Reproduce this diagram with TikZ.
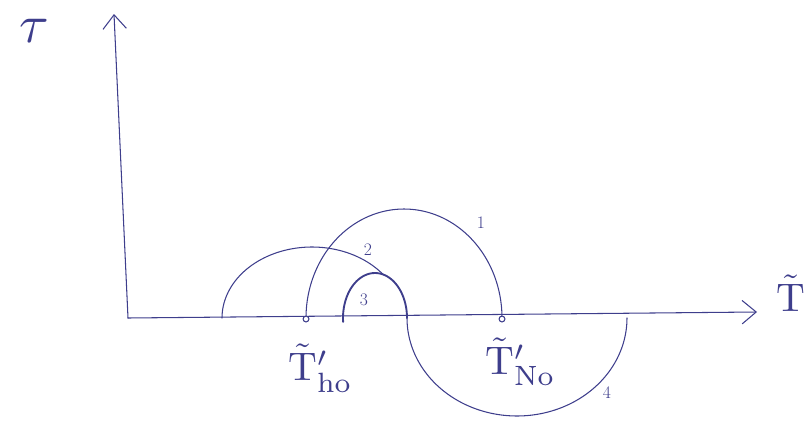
\documentclass[tikz,border=0pt]{standalone}
\usepackage{graphicx}
\usetikzlibrary{arrows.meta}
\definecolor{ink}{RGB}{62,62,140}
\newcommand{\biglabtext}[1]{\scalebox{3.4}{#1}}
\begin{document}
\begin{tikzpicture}[x=0.03cm,y=-0.03cm,
  ink line/.style={draw=ink,line width=0.9pt,line cap=round},
  bold line/.style={draw=ink,line width=1.6pt,line cap=round},
  axis/.style={ink line,-{Straight Barb[length=12pt,width=20pt,line width=0.9pt]}},
  pt/.style={circle,draw=ink,line width=0.9pt,fill=white,inner sep=0pt,minimum size=5pt},
  num/.style={text=ink,font=\fontsize{15}{15}\selectfont,inner sep=0pt},
  biglab/.style={text=ink,inner sep=0pt}]
\useasboundingbox (0,0) rectangle (809,421);
% axes
\coordinate (O) at (128,318);
\coordinate (ytip) at (114,14);
\coordinate (xstart) at (128,318);
\coordinate (xtip) at (757,312);
\draw[axis] (O) -- (ytip);
\draw[axis] (xstart) -- (xtip);
\node[biglab] (ylab) at (34,31) {\scalebox{4.6}{$\tau$}};
\node[biglab,anchor=west] (xlab) at (776,293) {\biglabtext{$\tilde{\mathrm{T}}$}};
% circle 1
\draw[ink line] plot[smooth,domain=180:0,samples=60] ({404+98*cos(\x)},{318-109*sin(\x)});
% circle 2 (stops at circle 3)
\draw[ink line] plot[smooth,domain=180:38,samples=60] ({312+90*cos(\x)},{318-71*sin(\x)});
% circle 3 (bold)
\draw[bold line] plot[smooth,domain=185:0,samples=50] ({375+32*cos(\x)},{318-45*sin(\x)});
% circle 4 (lower)
\draw[ink line] plot[smooth,domain=180:360,samples=60] ({517+110*cos(\x)},{318-98*sin(\x)});
% points
\node[pt] (pho) at (306,319) {};
\node[pt] (pvo) at (502,319) {};
% numbers
\node[num] (n1) at (481,223) {1};
\node[num] (n2) at (368,250) {2};
\node[num] (n3) at (364,300) {3};
\node[num] (n4) at (607,393) {4};
% point labels
\node[biglab,anchor=north west] (lho) at (288,344) {\biglabtext{$\tilde{\mathrm{T}}'_{\mathrm{ho}}$}};
\node[biglab,anchor=north west] (lvo) at (485,338) {\biglabtext{$\tilde{\mathrm{T}}'_{\mathrm{No}}$}};
\end{tikzpicture}
\end{document}
